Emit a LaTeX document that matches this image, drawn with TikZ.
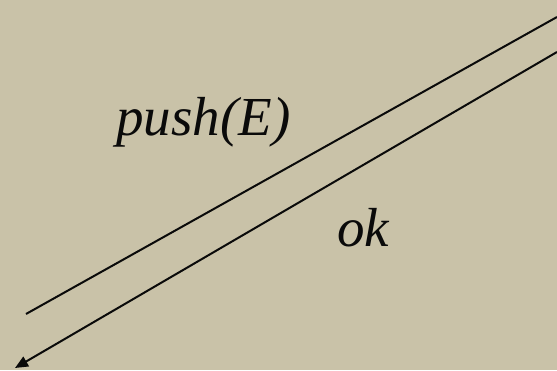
\documentclass[tikz,border=0pt]{standalone}
\usepackage{fontspec}
\setmainfont{Liberation Serif}
\usepackage{tikz}
\usetikzlibrary{arrows.meta, positioning}
\usepackage{xcolor}
\definecolor{paper}{RGB}{201,194,168}
\definecolor{ink}{RGB}{10,10,10}
\tikzset{
  msg/.style   = {draw=ink, line width=2pt},
  reply/.style = {draw=ink, line width=2pt, -{Triangle[length=13pt, width=11pt]}},
  lbl/.style   = {font=\fontsize{55}{66}\selectfont\itshape, text=ink,
                  inner sep=0pt, anchor=base west},
}

\begin{document}
\begin{tikzpicture}[x=1pt, y=1pt]
  \fill[paper] (0,0) rectangle (557,370);
  \useasboundingbox (0,0) rectangle (557,370);
  \coordinate (pushfrom) at (26,56);
  \coordinate (pushto) at (557,353);
  \coordinate (okfrom) at (557,318);
  \coordinate (okto) at (15,2);
  \draw[msg] (pushfrom) -- (pushto);
  \draw[reply] (okfrom) -- (okto);
  \node[lbl] (push) at (116,234) {push(E)};
  \node[lbl] (ok) at (337,124) {ok};
\end{tikzpicture}
\end{document}
